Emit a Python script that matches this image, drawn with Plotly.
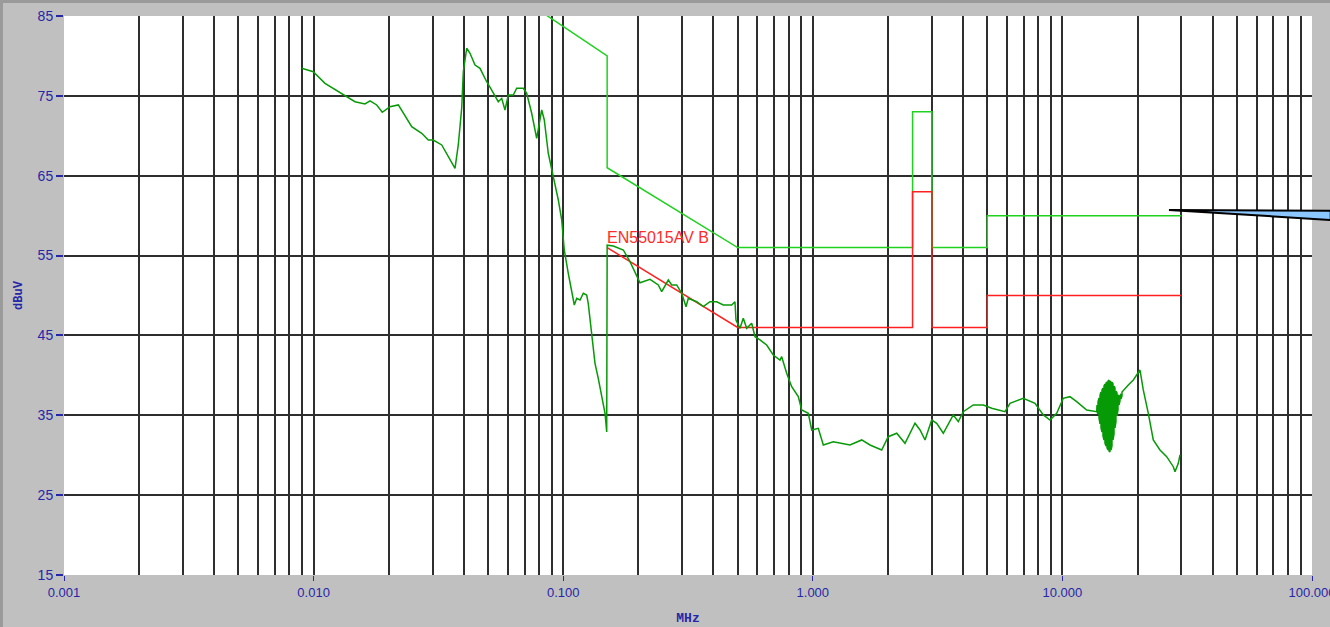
import math
import plotly.graph_objects as go

# ---- measured conducted emission, band A (9 kHz - 150 kHz) ----
band_a_freq = [0.00896, 0.00997, 0.01111, 0.01315, 0.01465, 0.01606, 0.01683, 0.0179, 0.01885, 0.02024,
               0.02185, 0.02472, 0.02711, 0.02881, 0.03017, 0.03261, 0.03686, 0.03799, 0.03921, 0.0398,
               0.04043, 0.04107, 0.04233, 0.04433, 0.04642, 0.04937, 0.0517, 0.05495, 0.0567, 0.05845,
               0.06026, 0.06311, 0.06512, 0.06921, 0.07141, 0.07477, 0.0783, 0.08072, 0.08201, 0.084,
               0.08715, 0.09126, 0.09559, 0.09863, 0.101, 0.1048, 0.1082, 0.1108, 0.1133, 0.1168,
               0.1204, 0.1242, 0.126, 0.1301, 0.1341, 0.1382, 0.1426, 0.1471, 0.1494]
band_a_level = [78.45, 78.03, 76.57, 75.11, 74.27, 73.98, 74.36, 73.86, 72.94, 73.64,
                73.86, 71.14, 70.31, 69.47, 69.47, 68.85, 65.93, 68.85, 73.48, 78.03,
                79.74, 80.96, 80.33, 78.86, 78.45, 76.77, 75.73, 74.27, 74.69, 73.23,
                75.11, 75.11, 75.95, 75.95, 75.32, 72.82, 69.69, 71.98, 73.23, 71.98,
                67.81, 64.88, 61.96, 59.46, 55.7, 52.78, 50.28, 48.81, 49.65, 49.44,
                50.28, 50.06, 49.02, 45.27, 41.51, 39.63, 37.33, 35.25, 32.91]

# ---- measured conducted emission, band B (150 kHz - 30 MHz) ----
band_b_freq = [0.15, 0.1588, 0.1741, 0.1852, 0.197, 0.2031, 0.2227, 0.2404, 0.2481, 0.2637,
               0.2721, 0.2849, 0.2984, 0.3105, 0.3171, 0.3426, 0.3641, 0.3872, 0.4121, 0.4379,
               0.4732, 0.4878, 0.4923, 0.5108, 0.5266, 0.5434, 0.5691, 0.5867, 0.6144, 0.6535,
               0.6944, 0.7388, 0.7505, 0.7859, 0.8231, 0.8747, 0.9027, 0.9594, 0.99, 1.052,
               1.102, 1.208, 1.409, 1.57, 1.695, 1.888, 2.006, 2.169, 2.341, 2.567,
               2.689, 2.816, 2.995, 3.136, 3.333, 3.655, 3.828, 4.009, 4.395, 4.821,
               5.211, 5.888, 6.166, 6.97, 7.767, 8.385, 8.919, 9.487, 10.08, 10.72,
               11.41, 12.51, 13.72]
band_b_level = [56.3, 56.2, 55.7, 54.23, 52.36, 51.6, 52.03, 51.32, 50.48, 51.94,
                51.32, 51.32, 50.28, 48.6, 49.65, 49.22, 48.6, 49.22, 49.22, 48.81,
                48.81, 49.22, 46.93, 45.89, 47.15, 45.89, 46.52, 44.84, 44.43, 43.8,
                42.55, 41.92, 42.34, 40.26, 38.58, 37.33, 35.66, 35.25, 33.16, 33.37,
                31.28, 31.69, 31.28, 31.91, 31.28, 30.65, 32.32, 32.75, 31.49, 34.0,
                33.16, 31.91, 34.41, 34.0, 32.75, 35.04, 34.2, 35.45, 36.29, 36.29,
                35.88, 35.45, 36.5, 37.13, 36.5, 35.04, 34.41, 35.25, 37.13, 37.33,
                36.7, 35.66, 35.45]

# ---- rapidly fluctuating burst around 15 MHz: upper / lower excursions ----
burst_freq = [13.76, 13.89, 14.02, 14.15, 14.28, 14.41, 14.54, 14.68, 14.81, 14.95,
              15.09, 15.23, 15.37, 15.51, 15.66, 15.80, 15.95, 16.10, 16.24, 16.39,
              16.55, 16.70, 16.86, 17.01, 17.17, 17.33]
burst_high = [36.29, 36.67, 37.17, 37.54, 37.92, 38.17, 38.42, 38.67, 38.92, 39.04,
              39.17, 39.30, 39.42, 39.30, 39.17, 39.17, 38.92, 38.67, 38.42, 38.04,
              37.79, 37.54, 37.42, 37.42, 37.67, 37.92]
burst_low = [35.41, 35.16, 34.66, 33.91, 33.41, 32.91, 32.41, 31.91, 31.53, 31.16,
             30.91, 30.65, 30.53, 30.40, 30.65, 31.16, 31.91, 32.66, 33.41, 34.16,
             34.91, 35.66, 36.29, 36.79, 37.04, 37.42]

# ---- tail of the sweep up to 30 MHz ----
tail_freq = [18.37, 19.24, 20.46, 21.09, 22.09, 23.13, 24.6, 26.17, 27.82, 28.26, 29.13, 29.59]
tail_level = [38.79, 39.42, 40.67, 38.17, 35.25, 31.91, 30.65, 29.82, 28.56, 27.94, 28.99, 30.03]

# ---- EN55015 limits ----
qp_freq = [0.05, 0.15, 0.15, 0.5, 2.51, 2.51, 3.0, 3.0, 5.0, 5.0, 30.0]
qp_limit = [90, 80, 66, 56, 56, 73, 73, 56, 56, 60, 60]
av_freq = [0.15, 0.5, 2.51, 2.51, 3.0, 3.0, 5.0, 5.0, 30.0]
av_limit = [56, 46, 46, 63, 63, 46, 46, 50, 50]
av_label = "EN55015AV B"

# axis labelling
x_decades = [0.001, 0.01, 0.1, 1, 10, 100]
x_decade_text = ["0.001", "0.010", "0.100", "1.000", "10.000", "100.000"]
y_ticks = [15, 25, 35, 45, 55, 65, 75, 85]

# the burst is drawn as a tight zig-zag between its upper and lower excursions
burst_x, burst_y = [], []
for i, f in enumerate(burst_freq):
    pair = (burst_high[i], burst_low[i]) if i % 2 == 0 else (burst_low[i], burst_high[i])
    burst_x += [f, f]
    burst_y += list(pair)

trace_x = band_a_freq + band_b_freq + burst_x + tail_freq
trace_y = band_a_level + band_b_level + burst_y + tail_level

# grid lines at every 1..9 multiple inside the decades
x_grid = []
for d in [0.001, 0.01, 0.1, 1, 10]:
    for m in range(1, 10):
        v = round(m * d, 6)
        if v > 0.001:
            x_grid.append(v)
y_grid = [25, 35, 45, 55, 65, 75]

BLUE = "#2626a8"
GRID = "#2e2e2e"

fig = go.Figure()
fig.add_trace(go.Scatter(x=qp_freq, y=qp_limit, mode="lines",
                         line=dict(color="#1fd21f", width=1.5), showlegend=False))
fig.add_trace(go.Scatter(x=av_freq, y=av_limit, mode="lines",
                         line=dict(color="#ff2020", width=1.5), showlegend=False))
fig.add_trace(go.Scatter(x=trace_x, y=trace_y, mode="lines",
                         line=dict(color="#069a06", width=1.5), showlegend=False))

# label of the average limit, placed at the start of the limit line (log axis -> log10 position)
fig.add_annotation(x=math.log10(av_freq[0]), y=57.3, xref="x", yref="y", text=av_label,
                   showarrow=False, xanchor="left", yanchor="middle", xshift=-2,
                   font=dict(family="Liberation Sans, Arial", size=16, color="#ff2b2b"))

# callout pointer at the right edge
fig.add_shape(type="path", xref="paper", yref="paper",
              path="M 0.8854 0.6530 L 1.0150 0.6518 L 1.0150 0.6351 Z",
              fillcolor="#8cc6ff", line=dict(color="#000000", width=2), layer="above")

# window frame edges
fig.add_shape(type="line", xref="paper", yref="paper", x0=-0.0501, x1=-0.0501, y0=-0.1, y1=1.03,
              line=dict(color="#9a9a9a", width=3), layer="above")
fig.add_shape(type="line", xref="paper", yref="paper", x0=-0.06, x1=1.02, y0=1.0259, y1=1.0259,
              line=dict(color="#9a9a9a", width=3), layer="above")

fig.update_xaxes(type="log", range=[-3, 2.00002], automargin=False,
                 tickmode="array", tickvals=x_decades, ticktext=x_decade_text,
                 ticklabeloverflow="allow",
                 showgrid=False, zeroline=False, showline=False,
                 ticks="outside", ticklen=5, tickcolor=BLUE, tickwidth=1,
                 tickfont=dict(family="Liberation Sans, Arial", size=13, color=BLUE),
                 minor=dict(tickvals=x_grid, showgrid=True, gridcolor=GRID, gridwidth=1.6, ticks=""),
                 title=dict(text="<b>MHz</b>", standoff=14,
                            font=dict(family="Liberation Mono, monospace", size=13, color=BLUE)))
fig.update_yaxes(range=[15, 85], automargin=False,
                 tickmode="array", tickvals=y_ticks,
                 showgrid=False, zeroline=False, showline=False,
                 ticks="outside", ticklen=7, tickcolor=BLUE, tickwidth=1.5,
                 tickfont=dict(family="Liberation Sans, Arial", size=14, color=BLUE),
                 minor=dict(tickvals=y_grid, showgrid=True, gridcolor=GRID, gridwidth=1.6, ticks=""),
                 title=dict(text="<b>dBuV</b>", standoff=12,
                            font=dict(family="Liberation Mono, monospace", size=12, color=BLUE)))

fig.update_layout(width=1330, height=627,
                  margin=dict(l=64, r=18, t=16, b=52),
                  paper_bgcolor="#c0c0c0", plot_bgcolor="#ffffff")

fig.write_html("out.html")
